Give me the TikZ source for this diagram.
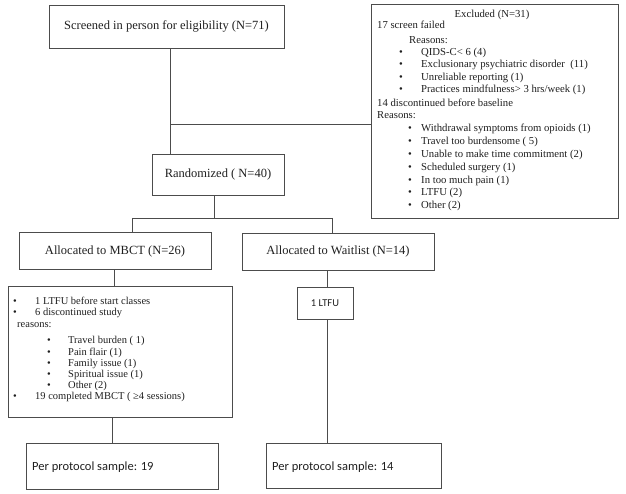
\documentclass[tikz,border=0pt]{standalone}
\usepackage{fontspec}
\setmainfont{Liberation Serif}
\newfontfamily\calib{Carlito}
\definecolor{lc}{gray}{0.3}
\definecolor{tc}{gray}{0.12}
\begin{document}
\begin{tikzpicture}[x=1pt,y=-1pt,
  bx/.style={draw=lc, line width=0.75pt, inner sep=0pt, text=tc},
  big/.style={font=\fontsize{12.5}{14}\selectfont},
  sm/.style={font=\fontsize{10.7}{12}\selectfont, text=tc, inner sep=0pt, anchor=west, text height=7.5pt, text depth=2.5pt},
  smc/.style={font=\fontsize{10.7}{12}\selectfont, text=tc, inner sep=0pt, text height=7.5pt, text depth=2.5pt},
  md/.style={font=\fontsize{10.5}{12}\selectfont, text=tc, inner sep=0pt, anchor=west, text height=7.5pt, text depth=2.5pt},
  sans/.style={font=\calib\fontsize{12.5}{14}\selectfont, text=tc, inner sep=0pt, anchor=west, text height=9pt, text depth=3pt},
  conn/.style={draw=lc, line width=0.75pt}]
\useasboundingbox (0,0) rectangle (626,494);

% boxes
\node[bx,big,minimum width=235pt,minimum height=43pt] (scr) at (166.5,26.5) {Screened in person for eligibility (N=71)};
\node[bx,minimum width=247pt,minimum height=214pt] (excl) at (494.5,111) {};
\node[bx,big,minimum width=132pt,minimum height=41pt] (rand) at (218,174.5) {Randomized ( N=40)};
\node[bx,big,minimum width=192pt,minimum height=37pt] (mbct) at (115,251) {Allocated to MBCT (N=26)};
\node[bx,big,minimum width=192pt,minimum height=37pt] (wait) at (338,251.5) {Allocated to Waitlist (N=14)};
\node[bx,minimum width=224pt,minimum height=131pt] (mdet) at (120,351.5) {};
\node[bx,font=\calib\fontsize{10.5}{12}\selectfont,minimum width=56pt,minimum height=32pt] (ltfu) at (325,303) {1 LTFU};
\node[bx,minimum width=192pt,minimum height=46pt] (pp19) at (122,466) {};
\node[bx,minimum width=175pt,minimum height=45pt] (pp14) at (353.5,465.5) {};

% excluded text
\node[smc] (e0) at (492,15) {Excluded (N=31)};
\node[sm] (e1) at (377,26) {17 screen failed};
\node[sm] (e2) at (409,41) {Reasons:};
\node[sm] (e3b) at (399,53) {\textbullet};
\node[sm] (e3) at (421,53) {QIDS-C< 6 (4)};
\node[sm] (e4b) at (399,65.5) {\textbullet};
\node[sm] (e4) at (421,65.5) {Exclusionary psychiatric disorder~ (11)};
\node[sm] (e5b) at (399,78) {\textbullet};
\node[sm] (e5) at (421,78) {Unreliable reporting (1)};
\node[sm] (e6b) at (399,90.5) {\textbullet};
\node[sm] (e6) at (421,90.5) {Practices mindfulness> 3 hrs/week (1)};
\node[sm] (e7) at (377,104) {14 discontinued before baseline};
\node[sm] (e8) at (377,116.5) {Reasons:};
\node[sm] (f1b) at (408,129) {\textbullet};
\node[sm] (f1) at (421,129) {Withdrawal symptoms from opioids (1)};
\node[sm] (f2b) at (408,142) {\textbullet};
\node[sm] (f2) at (421,142) {Travel too burdensome ( 5)};
\node[sm] (f3b) at (408,155) {\textbullet};
\node[sm] (f3) at (421,155) {Unable to make time commitment (2)};
\node[sm] (f4b) at (408,168) {\textbullet};
\node[sm] (f4) at (421,168) {Scheduled surgery (1)};
\node[sm] (f5b) at (408,181) {\textbullet};
\node[sm] (f5) at (421,181) {In too much pain (1)};
\node[sm] (f6b) at (408,193.5) {\textbullet};
\node[sm] (f6) at (421,193.5) {LTFU (2)};
\node[sm] (f7b) at (408,206.5) {\textbullet};
\node[sm] (f7) at (421,206.5) {Other (2)};

% MBCT detail text
\node[md] (d1b) at (13,302) {\textbullet};
\node[md] (d1) at (35,302) {1 LTFU before start classes};
\node[md] (d2b) at (13,313) {\textbullet};
\node[md] (d2) at (35,313) {6 discontinued study};
\node[md] (d3) at (17,324.5) {reasons:};
\node[md] (g1b) at (47,341) {\textbullet};
\node[md] (g1) at (68,341) {Travel burden ( 1)};
\node[md] (g2b) at (47,352.5) {\textbullet};
\node[md] (g2) at (68,352.5) {Pain flair (1)};
\node[md] (g3b) at (47,364) {\textbullet};
\node[md] (g3) at (68,364) {Family issue (1)};
\node[md] (g4b) at (47,375) {\textbullet};
\node[md] (g4) at (68,375) {Spiritual issue (1)};
\node[md] (g5b) at (47,386) {\textbullet};
\node[md] (g5) at (68,386) {Other (2)};
\node[md] (d4b) at (13,397) {\textbullet};
\node[md] (d4) at (35,397) {19 completed MBCT ( ≥4 sessions)};

% per protocol text
\node[sans] (t19) at (32,467) {Per protocol sample: 19};
\node[sans] (t14) at (272,467) {Per protocol sample: 14};

% connectors
\coordinate (j1) at (170,124);
\coordinate (j2) at (214,218);
\coordinate (m1) at (132,218);
\coordinate (w1) at (332,218);
\coordinate (v1) at (114,0);
\coordinate (v2) at (112,0);
\coordinate (v3) at (327,0);
\draw[conn] (scr.south -| j1) -- (rand.north -| j1);
\draw[conn] (j1) -- (j1 -| excl.west);
\draw[conn] (rand.south -| j2) -- (j2);
\draw[conn] (m1) -- (w1);
\draw[conn] (m1) -- (mbct.north -| m1);
\draw[conn] (w1) -- (wait.north -| w1);
\draw[conn] (mbct.south -| v1) -- (mdet.north -| v1);
\draw[conn] (mdet.south -| v2) -- (pp19.north -| v2);
\draw[conn] (wait.south -| v3) -- (ltfu.north -| v3);
\draw[conn] (ltfu.south -| v3) -- (pp14.north -| v3);
\end{tikzpicture}
\end{document}
